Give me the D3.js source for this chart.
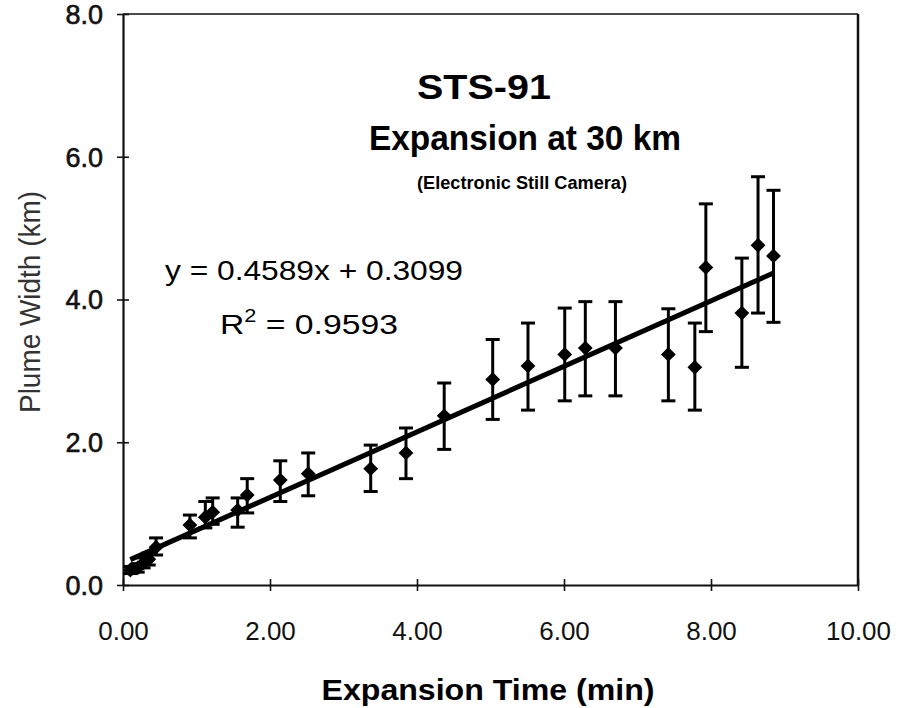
<!DOCTYPE html>
<html><head><meta charset="utf-8">
<script src="https://cdn.jsdelivr.net/npm/d3@7"></script>
<style>body{margin:0;background:#fff}svg{display:block}text{font-family:Arial,"Liberation Sans",Helvetica,sans-serif}</style>
</head><body>
<svg id="c" width="898" height="708"></svg>
<script>
// ---- data ----
const times   = [0.10,0.20,0.28,0.35,0.45,0.91,1.12,1.22,1.56,1.69,2.14,2.52,3.37,3.85,4.37,5.03,5.51,6.01,6.29,6.70,7.42,7.78,7.93,8.42,8.64,8.85];
const widths  = [0.21,0.24,0.31,0.36,0.53,0.84,0.95,1.02,1.05,1.26,1.47,1.56,1.63,1.85,2.37,2.88,3.07,3.23,3.32,3.32,3.23,3.05,4.45,3.81,4.76,4.61];
const errHigh = [0.26,0.30,0.38,0.45,0.66,0.98,1.17,1.22,1.22,1.49,1.74,1.85,1.96,2.20,2.83,3.44,3.67,3.88,3.97,3.97,3.87,3.67,5.34,4.58,5.72,5.53];
const errLow  = [0.16,0.18,0.24,0.28,0.42,0.66,0.80,0.85,0.81,1.01,1.17,1.25,1.31,1.49,1.90,2.32,2.45,2.58,2.65,2.65,2.58,2.45,3.55,3.05,3.81,3.68];
const fitSlope = 0.4589, fitIntercept = 0.3099, fitR2 = 0.9593;
const xTickValues = [0,2,4,6,8,10];
const xTickLabels = ["0.00","2.00","4.00","6.00","8.00","10.00"];
const yTickValues = [0,2,4,6,8];
const yTickLabels = ["0.0","2.0","4.0","6.0","8.0"];

const svg = d3.select("#c");
const L=123, R=858, T=14, B=585;
const x = d3.scaleLinear().domain([0,10]).range([L,R]);
const y = d3.scaleLinear().domain([0,8]).range([B,T]);

// plot frame
svg.append("line").attr("x1",L).attr("x2",R).attr("y1",T).attr("y2",T).attr("stroke","#111").attr("stroke-width",1.6);
svg.append("line").attr("x1",R).attr("x2",R).attr("y1",T).attr("y2",B).attr("stroke","#111").attr("stroke-width",2.5);

// axes
const xAxis = d3.axisBottom(x).tickValues(xTickValues).tickFormat((d,i)=>xTickLabels[i]).tickSizeInner(6).tickSizeOuter(0);
const gx = svg.append("g").attr("transform",`translate(0,${B})`).call(xAxis);
gx.select(".domain").attr("stroke","#111").attr("stroke-width",2.2);
gx.selectAll(".tick line").attr("stroke","#111").attr("stroke-width",1.6).attr("y1",-6);
gx.selectAll(".tick text").attr("font-size",26).attr("fill","#111").attr("dy",0).attr("y",55);

const yAxis = d3.axisLeft(y).tickValues(yTickValues).tickFormat((d,i)=>yTickLabels[i]).tickSizeInner(6).tickSizeOuter(0).tickPadding(14);
const gy = svg.append("g").attr("transform",`translate(${L},0)`).call(yAxis);
gy.select(".domain").attr("stroke","#111").attr("stroke-width",2.2);
gy.selectAll(".tick line").attr("stroke","#111").attr("stroke-width",1.6).attr("x1",6);
gy.selectAll(".tick text").attr("font-size",27).attr("fill","#111").attr("stroke","#111").attr("stroke-width",0.6).attr("dy","0.35em");

// regression line
const xmin = d3.min(times), xmax = d3.max(times);
svg.append("line")
  .attr("x1",x(xmin)).attr("y1",y(fitSlope*xmin+fitIntercept))
  .attr("x2",x(xmax)).attr("y2",y(fitSlope*xmax+fitIntercept))
  .attr("stroke","#000").attr("stroke-width",5);

// error bars
const pts = times.map((t,i)=>({t, w:widths[i], hi:errHigh[i], lo:errLow[i]}));
const eb = svg.append("g").attr("stroke","#000").attr("stroke-width",3);
pts.forEach(p=>{
  eb.append("line").attr("x1",x(p.t)).attr("x2",x(p.t)).attr("y1",y(p.hi)).attr("y2",y(p.lo));
  eb.append("line").attr("x1",x(p.t)-7).attr("x2",x(p.t)+7).attr("y1",y(p.hi)).attr("y2",y(p.hi));
  eb.append("line").attr("x1",x(p.t)-7).attr("x2",x(p.t)+7).attr("y1",y(p.lo)).attr("y2",y(p.lo));
});
// diamonds
svg.append("g").selectAll("path").data(pts).join("path")
  .attr("d", d3.symbol().type(d3.symbolDiamond2).size(140))
  .attr("transform", p=>`translate(${x(p.t)},${y(p.w)})`)
  .attr("fill","#000");

// titles
function txt(s, xx, yy, size, weight, len, anchor){
  return svg.append("text").attr("x",xx).attr("y",yy).attr("font-size",size).attr("font-weight",weight)
    .attr("text-anchor",anchor||"middle").attr("textLength",len).attr("lengthAdjust","spacingAndGlyphs").attr("fill","#000").text(s);
}
txt("STS-91", 484, 99, 35, "bold", 134);
txt("Expansion at 30 km", 525, 150, 35, "bold", 312);
txt("(Electronic Still Camera)", 522, 189, 18, "bold", 210);

txt(`y = ${fitSlope}x + ${fitIntercept}`, 165, 280, 28, "normal", 298, "start");
const r2 = svg.append("text").attr("x",220).attr("y",334).attr("font-size",28).attr("fill","#000")
  .attr("textLength",178).attr("lengthAdjust","spacingAndGlyphs");
r2.append("tspan").text("R");
r2.append("tspan").attr("dy",-12).attr("font-size",18).text("2");
r2.append("tspan").attr("dy",12).text(` = ${fitR2}`);

txt("Expansion Time (min)", 488, 700, 29, "bold", 333);

svg.append("text").attr("transform","translate(40,302) rotate(-90)").attr("text-anchor","middle")
  .attr("font-size",29).attr("fill","#333").attr("textLength",222).attr("lengthAdjust","spacingAndGlyphs")
  .text("Plume Width (km)");
</script>
</body></html>
